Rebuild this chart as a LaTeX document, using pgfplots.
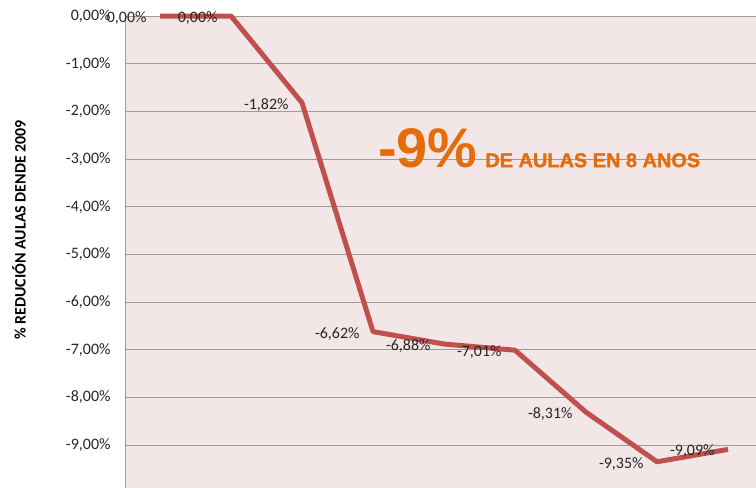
\documentclass[border=0pt]{standalone}
\usepackage{pgfplots}
\pgfplotsset{compat=1.18}
\usepackage{fontspec}
\setmainfont{Carlito}
\newfontfamily\arialfont{Liberation Sans}
\newfontfamily\heavyfont[FakeBold=1.3]{Liberation Sans Bold}
\definecolor{bgpink}{HTML}{F3E6E6}
\definecolor{gridgray}{HTML}{9C9C9C}
\definecolor{linered}{HTML}{C0504D}
\definecolor{annorange}{HTML}{E46C0A}
\begin{document}
\begin{tikzpicture}
\path[use as bounding box] (-125bp,0bp) rectangle (631bp,488bp);
\clip (-125bp,0bp) rectangle (631bp,488bp);
\begin{axis}[
  scale only axis,
  width=631bp, height=472bp,
  xmin=-0.493, xmax=8.394,
  ymin=-9.90, ymax=0,
  axis x line=none,
  axis y line*=left,
  y axis line style={gridgray, line width=0.8bp, -},
  ytick={-9,-8,...,0},
  ymajorgrids,
  major grid style={gridgray, line width=0.8bp},
  major tick length=0pt,
  axis background/.style={fill=bgpink},
  /pgf/number format/assume math mode=true,
  yticklabel={\pgfmathprintnumber[fixed,fixed zerofill,precision=2,use comma]{\tick}\%},
  yticklabel style={font=\fontsize{16}{18}\selectfont, text=black!85, xshift=-11bp},
  ylabel={\textbf{\% REDUCIÓN AULAS DENDE 2009}},
  ylabel style={font=\fontsize{16}{18}\selectfont, at={(axis description cs:-0.168,0.547)}, anchor=center},
  clip=false,
]
\addplot[linered, line width=5bp, line join=round,
  nodes near coords={\pgfmathprintnumber[fixed,fixed zerofill,precision=2,use comma]{\pgfplotspointmeta}\%},
  nodes near coords style={font=\fontsize{16}{18}\selectfont, text=black!85, anchor=east, xshift=-11bp, yshift=-2bp, inner sep=0pt},
  point meta=explicit,
] coordinates {
(0,0) [0]
(1,0) [0]
(2,-1.82) [-1.82]
(3,-6.62) [-6.62]
(4,-6.88) [-6.88]
(5,-7.01) [-7.01]
(6,-8.31) [-8.31]
(7,-9.35) [-9.35]
(8,-9.09) [-9.09]
};
\node[anchor=base west, inner sep=0pt, text=annorange] at (axis cs:3.07,-3.17)
  {\arialfont\bfseries\fontsize{56}{58}\selectfont -9\%\hspace{8bp}\heavyfont\fontsize{20}{22}\selectfont DE AULAS EN 8 ANOS};
\end{axis}
\end{tikzpicture}
\end{document}
